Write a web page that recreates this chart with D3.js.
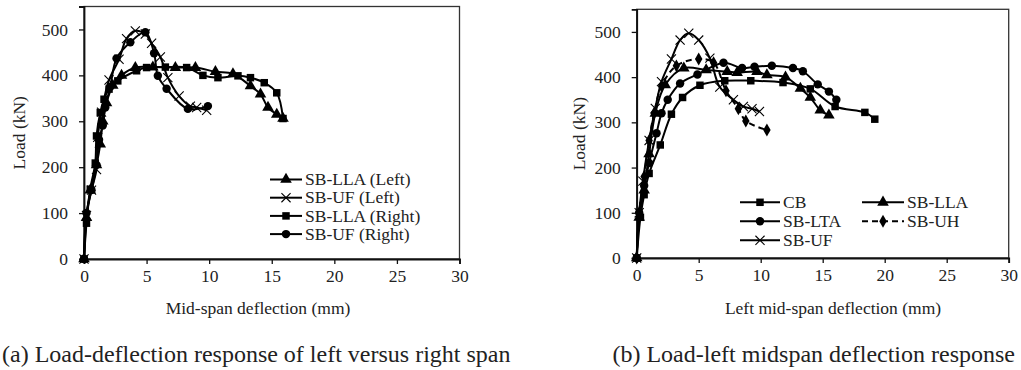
<!DOCTYPE html>
<html><head><meta charset="utf-8">
<script src="https://cdn.jsdelivr.net/npm/d3@7"></script>
<style>
html,body{margin:0;padding:0;background:#fff;}
svg text{font-family:"Liberation Serif","Times New Roman",serif;fill:#222;}
</style></head>
<body><svg id="c" width="1021" height="370"></svg>
<script>
// ---- Data: (a) left vs right span ----
const aTitle = "(a) Load-deflection response of left versus right span";
const bTitle = "(b) Load-left midspan deflection response";
const xTicks = [0,5,10,15,20,25,30];
const yTicks = [0,100,200,300,400,500];

const aLLALeft = [[0,0],[0.2,90],[0.5,150],[1.0,205],[1.3,250],[1.5,300],[1.8,340],[2.3,378],[3.0,400],[4.1,417],[5.5,418],[7.3,417],[8.9,417],[10.5,408],[11.9,403],[13.3,377],[14.1,359],[14.7,330],[15.4,315],[15.9,306]];
const aUFLeft = [[0,0],[0.2,95],[0.6,150],[1.0,195],[1.1,265],[1.4,320],[2.0,390],[2.8,435],[3.4,480],[4.1,497],[4.9,490],[5.4,470],[6.1,440],[6.7,395],[7.6,355],[8.5,333],[9.0,330],[9.8,324]];
const aLLARight = [[0,0],[0.2,78],[0.5,152],[0.9,209],[1.0,268],[1.3,319],[1.6,348],[2.0,370],[2.7,388],[4.2,410],[5.0,417],[6.5,418],[8.2,417],[9.5,400],[10.7,395],[12.3,399],[13.3,395],[14.4,384],[15.4,362],[15.9,306]];
const aUFRight = [[0,0],[0.2,100],[0.6,150],[1.0,205],[1.2,260],[1.5,291],[1.7,330],[2.1,375],[2.6,437],[3.7,472],[4.9,494],[5.6,448],[5.9,399],[6.6,371],[8.3,327],[9.9,333]];

// ---- Data: (b) left midspan ----
const bCB = [[0,0],[0.3,90],[0.6,140],[1.0,187],[1.9,250],[2.8,318],[3.7,355],[5.1,382],[7.1,392],[9.2,392],[11.8,388],[14.0,374],[16.0,335],[18.4,322],[19.2,307]];
const bLLA = [[0,0],[0.2,90],[0.6,150],[1.0,230],[1.5,320],[2.3,383],[3.8,420],[5.6,416],[7.3,412],[8.1,410],[9.7,412],[10.5,405],[12.0,400],[13.2,375],[14.0,355],[14.8,327],[15.5,316]];
const bLTA = [[0,0],[0.2,100],[0.6,160],[1.0,210],[1.6,276],[2.0,320],[2.5,350],[3.5,386],[4.9,406],[7.0,432],[8.5,420],[9.5,423],[10.9,425],[12.6,420],[13.4,413],[14.6,384],[15.5,368],[16.1,350]];
const bUH = [[0,0],[0.2,100],[0.6,180],[1.0,260],[1.4,320],[2.0,380],[3.2,425],[5.0,440],[6.2,432],[7.2,370],[8.2,330],[8.8,303],[10.5,283]];
const bUF = [[0,0],[0.2,100],[0.5,170],[1.0,260],[1.5,331],[2.0,390],[2.8,440],[3.5,482],[4.2,497],[5.0,482],[5.9,442],[6.7,378],[7.8,350],[8.6,335],[9.3,330],[9.9,324]];

const aSeries = [
  {name:"SB-LLA (Left)", data:aLLALeft, mk:"tri", dash:null},
  {name:"SB-UF (Left)", data:aUFLeft, mk:"x", dash:null},
  {name:"SB-LLA (Right)", data:aLLARight, mk:"sq", dash:null},
  {name:"SB-UF (Right)", data:aUFRight, mk:"ci", dash:null}
];
const bSeries = [
  {name:"CB", data:bCB, mk:"sq", dash:null},
  {name:"SB-LLA", data:bLLA, mk:"tri", dash:null},
  {name:"SB-LTA", data:bLTA, mk:"ci", dash:null},
  {name:"SB-UH", data:bUH, mk:"di", dash:"6,4"},
  {name:"SB-UF", data:bUF, mk:"x", dash:null}
];

const svg = d3.select("#c");
const FS = 17.5;

function marker(g, type, x, y){
  let sym, size, fill=true;
  if(type==="tri"){sym=d3.symbolTriangle; size=58;}
  else if(type==="sq"){sym=d3.symbolSquare; size=56;}
  else if(type==="ci"){sym=d3.symbolCircle; size=56;}
  else if(type==="di"){sym=d3.symbolDiamond; size=48;}
  else {sym=d3.symbolX; size=56; fill=false;}
  const p = g.append("path").attr("d", d3.symbol(sym, size)()).attr("transform",`translate(${x},${y})`);
  if(fill) p.attr("fill","#000"); else p.attr("fill","none").attr("stroke","#000").attr("stroke-width",1.1);
}

function chart(opts){
  const {x0,x1,y0,yTop,series,xLabel,xLabelCx,yLabelCx,legend} = opts;
  const x = d3.scaleLinear().domain([0,30]).range([x0,x1]);
  const y = d3.scaleLinear().domain([0,550]).range([y0,yTop]);
  const g = svg.append("g");
  g.append("rect").attr("x",x0).attr("y",yTop).attr("width",x1-x0).attr("height",y0-yTop)
    .attr("fill","none").attr("stroke","#333").attr("stroke-width",1.3);
  const xa = g.append("g").attr("transform",`translate(0,${y0})`)
    .call(d3.axisBottom(x).tickValues(xTicks).tickSize(5).tickPadding(6));
  const ya = g.append("g").attr("transform",`translate(${x0},0)`)
    .call(d3.axisLeft(y).tickValues(yTicks).tickSize(5).tickPadding(11));
  [xa,ya].forEach(a=>{
    a.select(".domain").attr("stroke","#111").attr("stroke-width",1.8);
    a.selectAll(".tick line").attr("stroke","#111").attr("stroke-width",1.3);
    a.selectAll("text").attr("font-size",FS).attr("font-family",'"Liberation Serif",serif').attr("fill","#222");
  });
  g.append("text").attr("x",xLabelCx).attr("y",314).attr("text-anchor","middle").attr("font-size",FS).text(xLabel);
  g.append("text").attr("transform",`translate(${yLabelCx},${(y0+yTop)/2}) rotate(-90)`)
    .attr("text-anchor","middle").attr("dy","0.35em").attr("font-size",FS).text("Load (kN)");
  const line = d3.line().x(d=>x(d[0])).y(d=>y(d[1])).curve(d3.curveCatmullRom.alpha(0.5));
  series.forEach(s=>{
    g.append("path").attr("d",line(s.data)).attr("fill","none").attr("stroke","#000")
      .attr("stroke-width",2).attr("stroke-dasharray",s.dash);
    s.data.forEach(d=>marker(g,s.mk,x(d[0]),y(d[1])));
  });
  legend.items.forEach(it=>{
    const s = series[it.i];
    g.append("line").attr("x1",it.lx).attr("x2",it.lx+it.len).attr("y1",it.y).attr("y2",it.y)
      .attr("stroke","#000").attr("stroke-width",2).attr("stroke-dasharray",s.dash);
    marker(g,s.mk,it.lx+it.len/2,it.y);
    g.append("text").attr("x",it.lx+it.len+3).attr("y",it.y).attr("dy","0.33em").attr("font-size",FS).text(s.name);
  });
}

chart({x0:84,x1:459.5,y0:259,yTop:6.5,series:aSeries,xLabel:"Mid-span deflection (mm)",xLabelCx:258,yLabelCx:19,
  legend:{items:[0,1,2,3].map(i=>({i:i,lx:270,len:32,y:179.5+i*18.2}))}});
chart({x0:636.7,x1:1008.7,y0:258,yTop:9.3,series:bSeries,xLabel:"Left mid-span deflection (mm)",xLabelCx:833,yLabelCx:579,
  legend:{items:[
    {i:0,lx:740,len:40,y:202.3},{i:2,lx:740,len:40,y:221.3},{i:4,lx:740,len:40,y:240.3},
    {i:1,lx:862,len:42,y:202.3},{i:3,lx:862,len:42,y:221.3}]}});

svg.append("text").attr("x",2).attr("y",362).attr("font-size",24).text(aTitle);
svg.append("text").attr("x",1015).attr("y",362).attr("text-anchor","end").attr("font-size",24).text(bTitle);
</script></body></html>
